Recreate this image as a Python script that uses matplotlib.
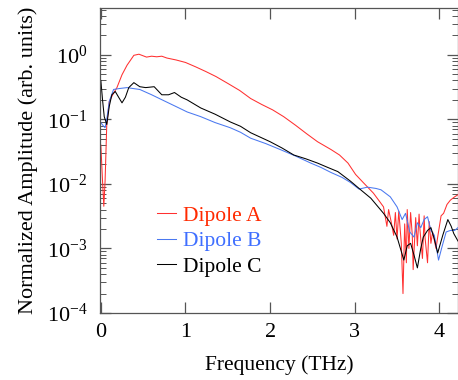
import numpy as np
import matplotlib
matplotlib.use("Agg")
import matplotlib.pyplot as plt
from matplotlib.ticker import LogLocator, NullFormatter, FixedLocator

# --- data (frequency in THz, normalized amplitude) ---
freq_a = [0.00, 0.02, 0.035, 0.05, 0.07, 0.10, 0.14, 0.19, 0.25, 0.31, 0.39, 0.45,
          0.54, 0.60, 0.66, 0.72, 0.78, 0.89, 1.00, 1.12, 1.24, 1.36, 1.50, 1.64,
          1.77, 1.90, 2.03, 2.16, 2.30, 2.43, 2.56, 2.72, 2.82, 2.92, 3.01, 3.10,
          3.22, 3.30, 3.34, 3.38, 3.40, 3.43, 3.46, 3.48, 3.50, 3.52, 3.55, 3.57,
          3.59, 3.61, 3.62, 3.64, 3.66, 3.68, 3.69, 3.72, 3.74, 3.76, 3.77, 3.80,
          3.82, 3.83, 3.86, 3.88, 3.90, 3.92, 3.96, 3.98, 4.02, 4.05, 4.09, 4.13,
          4.18, 4.22]
amp_a = [4.0e-2, 1.1e-2, 4.5e-3, 1.1e-2, 8.3e-2, 1.9e-1, 2.4e-1, 3.1e-1, 4.9e-1,
         6.9e-1, 0.98, 1.02, 0.92, 0.95, 0.93, 0.95, 0.89, 0.83, 0.76, 0.65, 0.55,
         0.46, 0.36, 0.28, 0.21, 0.17, 0.14, 0.11, 8.1e-2, 6.0e-2, 4.5e-2, 3.4e-2,
         2.8e-2, 2.1e-2, 1.4e-2, 1.05e-2, 7.2e-3, 5.2e-3, 4.4e-3, 2.2e-3, 4.0e-3,
         2.6e-3, 1.6e-3, 3.6e-3, 1.4e-3, 3.8e-3, 1.2e-3, 2.0e-4, 2.4e-3, 6.0e-4,
         4.0e-3, 1.0e-3, 3.6e-3, 1.6e-3, 4.7e-4, 3.0e-3, 1.1e-3, 3.4e-3, 2.0e-3,
         7.0e-4, 3.2e-3, 1.5e-3, 6.0e-4, 2.6e-3, 1.2e-3, 1.8e-3, 1.0e-3, 1.5e-3,
         3.2e-3, 3.5e-3, 4.8e-3, 5.6e-3, 6.3e-3, 6.8e-3]

freq_b = [0.00, 0.03, 0.05, 0.07, 0.10, 0.15, 0.22, 0.31, 0.38, 0.46, 0.60, 0.76,
          0.90, 1.02, 1.18, 1.35, 1.53, 1.65, 1.77, 1.95, 2.12, 2.30, 2.48, 2.60,
          2.72, 2.85, 2.95, 3.05, 3.15, 3.25, 3.31, 3.42, 3.50, 3.56, 3.60, 3.65,
          3.70, 3.74, 3.78, 3.82, 3.86, 3.90, 3.94, 3.99, 4.03, 4.08, 4.13, 4.18,
          4.22]
amp_b = [8.9e-2, 7.9e-2, 7.4e-2, 0.10, 0.19, 0.29, 0.30, 0.31, 0.30, 0.29, 0.24,
         0.19, 0.155, 0.13, 0.11, 8.9e-2, 7.4e-2, 6.3e-2, 5.1e-2, 4.2e-2, 3.4e-2,
         2.7e-2, 2.1e-2, 1.8e-2, 1.5e-2, 1.26e-2, 1.05e-2, 8.3e-3, 8.9e-3, 8.5e-3,
         8.1e-3, 6.3e-3, 4.4e-3, 2.8e-3, 3.5e-3, 1.8e-3, 1.5e-3, 2.5e-3, 2.1e-3,
         2.8e-3, 3.1e-3, 1.9e-3, 1.6e-3, 6.6e-4, 1.05e-3, 1.8e-3, 1.9e-3, 1.9e-3,
         2.1e-3]

freq_c = [0.00, 0.02, 0.04, 0.07, 0.10, 0.13, 0.17, 0.21, 0.25, 0.29, 0.33, 0.39,
          0.46, 0.53, 0.63, 0.72, 0.80, 0.87, 0.95, 1.02, 1.18, 1.35, 1.53, 1.65,
          1.77, 2.00, 2.14, 2.28, 2.42, 2.56, 2.68, 2.80, 2.95, 3.07, 3.19, 3.34,
          3.42, 3.50, 3.58, 3.62, 3.66, 3.70, 3.74, 3.78, 3.81, 3.86, 3.90, 3.94,
          3.98, 4.04, 4.10, 4.14, 4.17, 4.22]
amp_c = [0.40, 0.20, 0.11, 8.3e-2, 0.16, 0.24, 0.27, 0.22, 0.18, 0.22, 0.31, 0.37,
         0.32, 0.31, 0.32, 0.24, 0.24, 0.26, 0.22, 0.20, 0.15, 0.12, 9.1e-2,
         7.8e-2, 6.2e-2, 4.5e-2, 3.6e-2, 2.8e-2, 2.45e-2, 2.1e-2, 1.8e-2, 1.55e-2,
         1.1e-2, 8.1e-3, 6.0e-3, 3.5e-3, 2.5e-3, 1.5e-3, 6.6e-4, 1.1e-3, 1.2e-3,
         7.9e-4, 5.0e-4, 1.0e-3, 1.5e-3, 1.9e-3, 2.1e-3, 1.4e-3, 8.5e-4, 1.6e-3,
         2.8e-3, 2.2e-3, 1.7e-3, 1.3e-3]

labels = ["Dipole A", "Dipole B", "Dipole C"]
line_colors = ["#ff3030", "#4a78f0", "#000000"]
text_colors = ["#ff2a00", "#3f6fff", "#000000"]

plt.rcParams['font.family'] = 'serif'
plt.rcParams['font.serif'] = ['Liberation Serif', 'DejaVu Serif']
plt.rcParams['mathtext.fontset'] = 'stix'

fig = plt.figure(figsize=(4.58, 3.80), dpi=100)
ax = fig.add_axes([100 / 458, 1 - 313 / 380, 358 / 458, 305 / 380])

ax.plot(freq_a, amp_a, color=line_colors[0], lw=0.75, label=labels[0])
ax.plot(freq_b, amp_b, color=line_colors[1], lw=0.75, label=labels[1])
ax.plot(freq_c, amp_c, color=line_colors[2], lw=0.75, label=labels[2])

ax.set_yscale('log')
ax.set_xlim(-0.01, 4.22)
ax.set_ylim(1e-4, 5.3)
ax.xaxis.set_major_locator(FixedLocator([0, 1, 2, 3, 4]))
ax.yaxis.set_major_locator(LogLocator(base=10, numticks=10))
ax.yaxis.set_minor_locator(LogLocator(base=10, subs=np.arange(2, 10), numticks=10))
ax.yaxis.set_minor_formatter(NullFormatter())

ax.tick_params(which='both', direction='in', top=True, right=True, colors='#555555',
               labelcolor='black', labelsize=16)
ax.tick_params(which='major', length=8, width=0.9)
ax.tick_params(which='minor', length=4, width=0.7)
ax.tick_params(axis='y', pad=9)
ax.tick_params(axis='x', pad=7)
for s in ax.spines.values():
    s.set_color('#555555')
    s.set_linewidth(0.9)

ax.set_xlabel("Frequency (THz)", fontsize=15.5, labelpad=10)
ax.set_ylabel("Normalized Amplitude (arb. units)", fontsize=16, labelpad=6)

leg = ax.legend(loc='upper left', bbox_to_anchor=(0.158, 0.352), frameon=False,
                fontsize=15.5, handlelength=0.9, handletextpad=0.35, labelspacing=0.25,
                borderaxespad=0, borderpad=0)
for t, c in zip(leg.get_texts(), text_colors):
    t.set_color(c)

fig.savefig("out.png", dpi=100)
